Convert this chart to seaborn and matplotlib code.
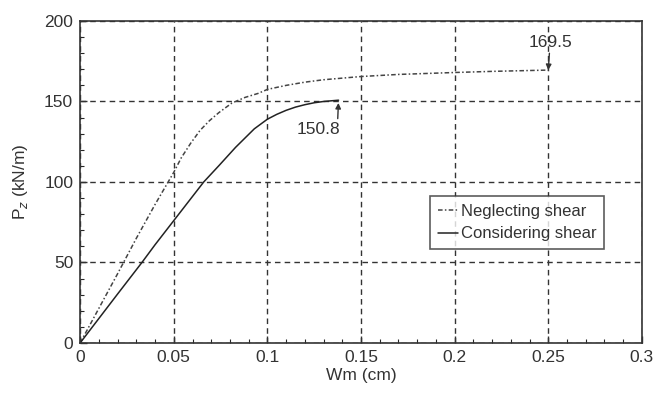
import matplotlib
matplotlib.use("Agg")
import matplotlib.pyplot as plt
import seaborn as sns
import pandas as pd
from matplotlib.ticker import MultipleLocator

# Neglecting shear
w_neg = [0.0, 0.01, 0.02, 0.03, 0.04, 0.05, 0.054, 0.059, 0.064, 0.069, 0.074, 0.081,
         0.088, 0.095, 0.10, 0.11, 0.12, 0.13, 0.15, 0.17, 0.20, 0.22, 0.25]
p_neg = [0.0, 21.5, 43, 65, 86, 106, 115, 124, 132, 138, 143, 149,
         152.5, 155, 157.5, 160, 162, 163.5, 165.5, 166.8, 168, 168.7, 169.5]

# Considering shear
w_con = [0.0, 0.01, 0.02, 0.033, 0.04, 0.05, 0.058, 0.066, 0.074, 0.083, 0.093,
         0.10, 0.105, 0.11, 0.115, 0.12, 0.125, 0.13, 0.138]
p_con = [0.0, 15.2, 30.4, 50, 61, 76, 88, 100, 110, 121.5, 133,
         139, 142, 144.5, 146.5, 148, 149.2, 150, 150.8]

df = pd.concat([
    pd.DataFrame({"w": w_neg, "p": p_neg, "case": "Neglecting shear"}),
    pd.DataFrame({"w": w_con, "p": p_con, "case": "Considering shear"}),
])

sns.set_style("white")
plt.rcParams["font.family"] = ["Liberation Sans", "DejaVu Sans"]

fig = plt.figure(figsize=(6.57, 3.96), dpi=100)
ax = fig.add_axes([0.122, 0.134, 0.855, 0.813])

sns.lineplot(data=df, x="w", y="p", hue="case", style="case",
             palette={"Neglecting shear": "#444444", "Considering shear": "#222222"},
             dashes={"Neglecting shear": (3, 1.5, 1, 1.5), "Considering shear": ""},
             linewidth=1.1, sort=False, ax=ax)

ax.set_xlim(0, 0.3)
ax.set_ylim(0, 200)
ax.set_xticks([0, 0.05, 0.1, 0.15, 0.2, 0.25, 0.3])
ax.set_xticklabels(["0", "0.05", "0.1", "0.15", "0.2", "0.25", "0.3"])
ax.set_yticks([0, 50, 100, 150, 200])
ax.xaxis.set_minor_locator(MultipleLocator(0.01))
ax.yaxis.set_minor_locator(MultipleLocator(10))
ax.tick_params(which="major", direction="in", length=5, width=1, labelsize=12.5, colors="#333333",
               bottom=True, left=True, pad=5)
ax.tick_params(which="minor", direction="in", length=3, width=0.8, bottom=True, left=True)
ax.grid(True, which="major", linestyle=(0, (4, 3)), color="#333333", linewidth=1)
for s in ax.spines.values():
    s.set_color("#333333")
    s.set_linewidth(1.2)

ax.set_xlabel("Wm (cm)", fontsize=12.5, color="#333333", labelpad=2)
ax.set_ylabel("P$_z$ (kN/m)", fontsize=12.5, color="#333333", labelpad=10)

ax.annotate("169.5", xy=(0.25, 169.5), xytext=(0.251, 182),
            ha="center", va="bottom", fontsize=12.5, color="#333333",
            arrowprops=dict(arrowstyle="-|>", color="#333333", lw=1, shrinkA=0, shrinkB=0,
                            mutation_scale=8))
ax.annotate("150.8", xy=(0.138, 150.8), xytext=(0.127, 128),
            ha="center", va="bottom", fontsize=12.5, color="#333333",
            arrowprops=dict(arrowstyle="-|>", color="#333333", lw=1, shrinkA=0, shrinkB=2,
                            mutation_scale=8, relpos=(0.95, 1.0)))

leg = ax.legend(loc="upper left", bbox_to_anchor=(0.623, 0.455), fontsize=12,
                frameon=True, fancybox=False, edgecolor="#333333", handlelength=1.2,
                handletextpad=0.2, borderpad=0.45, labelspacing=0.45, borderaxespad=0)
leg.get_frame().set_linewidth(1.2)
for t in leg.get_texts():
    t.set_color("#333333")

fig.savefig("out.png", dpi=100)
